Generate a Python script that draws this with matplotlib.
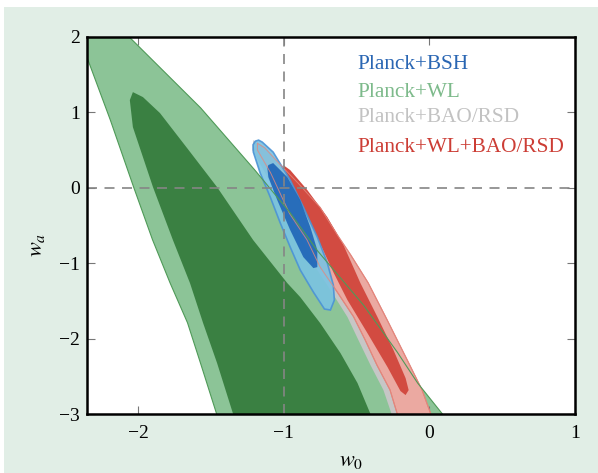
import matplotlib
matplotlib.use("Agg")
import matplotlib.pyplot as plt
from matplotlib.patches import Rectangle

plt.rcParams['font.family'] = ['Liberation Serif', 'DejaVu Serif']
plt.rcParams['mathtext.fontset'] = 'stix'

# contour outlines (w0, wa)
green_out_w0 = [-2.45, -2.17, -2.06, -1.57, -1.20, -0.96, -0.77, -0.45, -0.22, -0.08, 0.09, 0.16,
                -1.42, -1.46, -1.57, -1.66, -1.78, -1.90, -2.03, -2.19, -2.35]
green_out_wa = [2.22, 2.22, 2.00, 1.06, 0.24, -0.32, -0.83, -1.56, -2.18, -2.59, -3.00, -3.21,
                -3.21, -3.00, -2.33, -1.79, -1.26, -0.69, 0.01, 0.90, 1.73]

green_in_w0 = [-2.035, -1.966, -1.849, -1.663, -1.457, -1.209, -0.975, -0.886, -0.748, -0.610, -0.493,
               -0.404, -0.369, -1.312, -1.347, -1.457, -1.553, -1.643, -1.760, -1.897, -1.966,
               -2.035, -2.056]
green_in_wa = [1.269, 1.203, 0.991, 0.527, 0.009, -0.694, -1.264, -1.450, -1.798, -2.192, -2.590,
               -3.0, -3.214, -3.214, -3.0, -2.325, -1.794, -1.264, -0.694, 0.009, 0.407,
               0.805, 1.163]

# BAO/RSD mostly hidden under the red one, only its left rim shows
gray_w0 = [-1.208, -1.15, -1.05, -0.93, -0.78, -0.66, -0.57, -0.45, -0.32, -0.18, -0.08,
           -0.02, 0.03, -0.211, -0.259, -0.315, -0.404, -0.487, -0.562, -0.679, -0.782, -0.871,
           -0.989, -1.126, -1.216]
gray_wa = [0.633, 0.53, 0.30, 0.06, -0.26, -0.63, -0.89, -1.26, -1.75, -2.29, -2.68,
           -3.0, -3.21, -3.214, -3.0, -2.683, -2.351, -2.019, -1.714, -1.356, -1.052, -0.694,
           -0.336, 0.195, 0.500]

red_out_w0 = [-1.18, -1.13, -1.02, -0.90, -0.75, -0.63, -0.54, -0.42, -0.29, -0.15, -0.05, 0.01,
              0.06, -0.18, -0.22, -0.27, -0.36, -0.44, -0.52, -0.64, -0.75, -0.84, -0.96, -1.09, -1.18]
red_out_wa = [0.59, 0.53, 0.30, 0.06, -0.26, -0.63, -0.89, -1.26, -1.75, -2.29, -2.68, -3.00,
              -3.21, -3.21, -3.00, -2.68, -2.35, -2.02, -1.71, -1.36, -1.05, -0.69, -0.34, 0.20, 0.50]

red_in_w0 = [-1.003, -0.955, -0.837, -0.700, -0.589, -0.473, -0.356, -0.246, -0.163, -0.142, -0.163,
             -0.198, -0.287, -0.425, -0.562, -0.659, -0.761, -0.865, -0.968]
red_in_wa = [0.302, 0.235, -0.031, -0.389, -0.760, -1.264, -1.714, -2.153, -2.524, -2.683, -2.749,
             -2.696, -2.378, -1.927, -1.489, -1.118, -0.694, -0.296, 0.102]

blue_out_w0 = [-1.194, -1.172, -1.147, -1.072, -0.955, -0.865, -0.769, -0.700, -0.659, -0.652, -0.679,
               -0.720, -0.796, -0.886, -0.955, -1.023, -1.092, -1.161, -1.208, -1.210]
blue_out_wa = [0.619, 0.632, 0.606, 0.473, 0.102, -0.256, -0.654, -0.999, -1.290, -1.489, -1.621,
               -1.608, -1.383, -1.091, -0.787, -0.468, -0.123, 0.195, 0.473, 0.570]

blue_in_w0 = [-1.105, -1.072, -0.975, -0.886, -0.817, -0.769, -0.769, -0.796, -0.865, -0.955, -1.044,
              -1.105, -1.112]
blue_in_wa = [0.302, 0.328, 0.142, -0.163, -0.521, -0.826, -1.052, -1.065, -0.919, -0.561, -0.163,
              0.142, 0.261]

labels = ['Planck+BSH', 'Planck+WL', 'Planck+BAO/RSD', 'Planck+WL+BAO/RSD']
label_colors = ['#2a66b3', '#7dba8b', '#c2c2c2', '#cc3d35']

xticks = [-2, -1, 0, 1]
yticks = [-3, -2, -1, 0, 1, 2]

fig = plt.figure(figsize=(5.98, 4.73), dpi=100, facecolor='white')
fig.patches.append(Rectangle((4 / 598, 0), 1, 1 - 7 / 473, transform=fig.transFigure,
                             facecolor='#e1eee6', edgecolor='none', zorder=-5))
ax = fig.add_axes([87 / 598, 1 - 414 / 473, 488 / 598, 377 / 473])
ax.set_zorder(2)
ax.set_facecolor('white')

ax.fill(green_out_w0, green_out_wa, color='#8cc497', lw=0, zorder=1)
ax.fill(green_in_w0, green_in_wa, color='#3a8042', lw=0, zorder=2)
ax.fill(gray_w0, gray_wa, color='#c6c6c6', lw=0, zorder=3)
ax.fill(red_out_w0, red_out_wa, facecolor='#eba9a1', edgecolor='#e07a70', lw=0.8, zorder=4)
ax.fill(red_in_w0, red_in_wa, color='#d24b41', lw=0, zorder=5)
ax.fill(blue_out_w0, blue_out_wa, facecolor='#7bc3e2', edgecolor='#4b93d6', lw=1.2,
        alpha=0.9, zorder=6)
ax.fill(blue_in_w0, blue_in_wa, color='#2369b9', lw=0, alpha=0.95, zorder=7)
ax.plot(red_out_w0 + red_out_w0[:1], red_out_wa + red_out_wa[:1], color='#e58a80', lw=0.7,
        alpha=0.8, zorder=8)
ax.plot(green_out_w0 + green_out_w0[:1], green_out_wa + green_out_wa[:1], color='#4f9a58',
        lw=0.8, zorder=9)

ax.axvline(-1, color='#858585', lw=1.2, ls=(0, (6, 4.5)), zorder=10)
ax.axhline(0, color='#858585', lw=1.2, ls=(0, (6, 4.5)), zorder=10)

ax.set_xlim(-2.35, 1.0)
ax.set_ylim(-3, 2)
ax.set_xticks(xticks)
ax.set_yticks(yticks)
ax.set_xticklabels([('\u2212%d' % -t) if t < 0 else '%d' % t for t in xticks])
ax.set_yticklabels([('\u2212%d' % -t) if t < 0 else '%d' % t for t in yticks])
ax.tick_params(direction='in', length=6, width=0.8, color='#777777', top=True, right=True,
               labelsize=14)
ax.tick_params(axis='x', pad=8)
ax.tick_params(axis='y', pad=5)
for s in ax.spines.values():
    s.set_linewidth(1.8)
    s.set_zorder(12)

ax.set_xlabel('$w_0$', fontsize=16)
ax.set_ylabel('$w_a$', fontsize=16)
ax.xaxis.set_label_coords((351 - 87) / 488, -(452 - 414) / 377)
ax.yaxis.set_label_coords(-(87 - 47) / 488, (414 - 245) / 377)

ys = [0.915, 0.841, 0.775, 0.695]
for lab, col, y in zip(labels, label_colors, ys):
    ax.text(0.555, y, lab, color=col, fontsize=15.3, transform=ax.transAxes, va='baseline',
            zorder=13)

fig.savefig('out.png', dpi=100, facecolor=fig.get_facecolor())
